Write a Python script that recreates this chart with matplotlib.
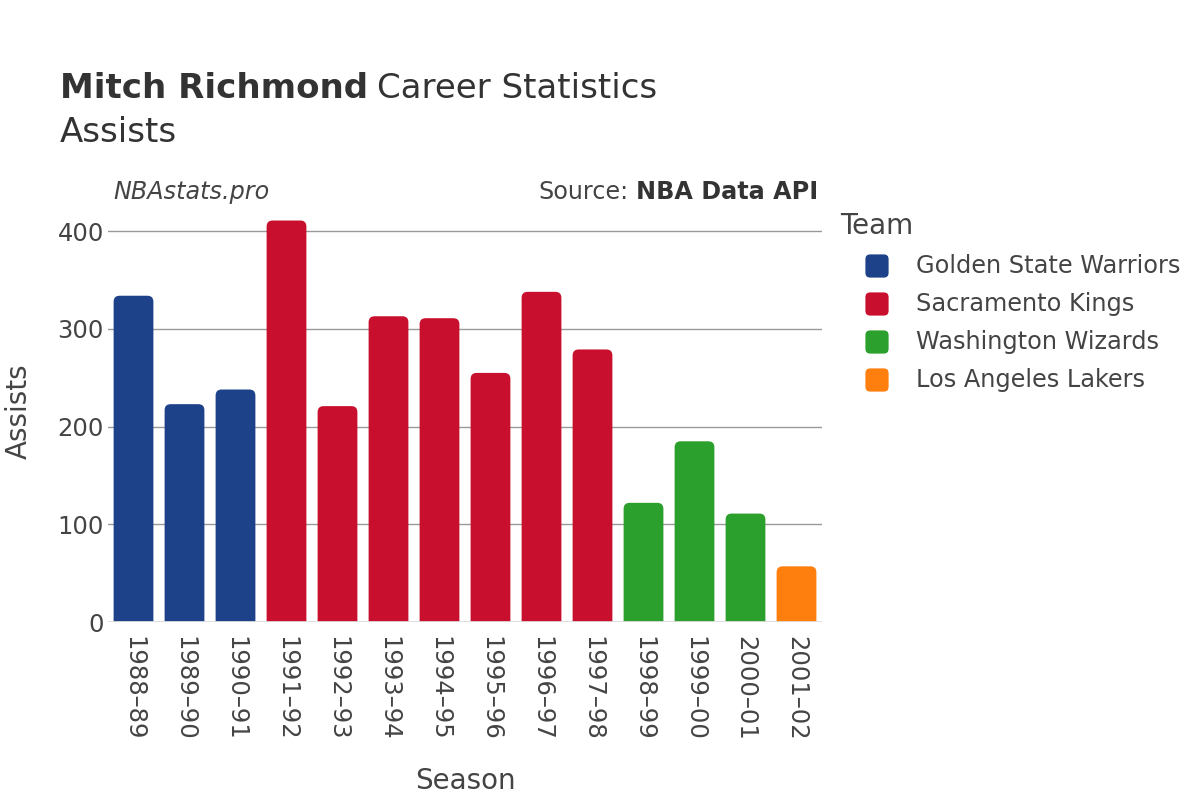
import matplotlib
matplotlib.use("Agg")
import matplotlib.pyplot as plt
from matplotlib.patches import FancyBboxPatch
import matplotlib.transforms as mtransforms

seasons = ["1988–89", "1989–90", "1990–91", "1991–92", "1992–93", "1993–94", "1994–95",
           "1995–96", "1996–97", "1997–98", "1998–99", "1999–00", "2000–01", "2001–02"]
assists = [334, 223, 238, 411, 221, 313, 311, 255, 338, 279, 122, 185, 111, 57]
teams = ["Golden State Warriors"] * 3 + ["Sacramento Kings"] * 7 + \
        ["Washington Wizards"] * 3 + ["Los Angeles Lakers"]
team_order = ["Golden State Warriors", "Sacramento Kings", "Washington Wizards", "Los Angeles Lakers"]
team_colors = {"Golden State Warriors": "#1D428A", "Sacramento Kings": "#C8102E",
               "Washington Wizards": "#2CA02C", "Los Angeles Lakers": "#FF7F0E"}

txt = "#444444"
plt.rcParams['font.family'] = ['DejaVu Sans']

fig = plt.figure(figsize=(12, 8), dpi=100)
ax = fig.add_axes([0.09, 0.2225, 0.595, 0.5275])
ymax = 432
ax.set_xlim(-0.5, len(seasons) - 0.5)
ax.set_ylim(0, ymax)

# pixel per data unit, for rounded corners
px_x = 714 / len(seasons)
px_y = 422 / ymax
aspect = px_x / px_y
for i, (v, t) in enumerate(zip(assists, teams)):
    w = 0.78
    r = 6 / px_x
    p = FancyBboxPatch((i - w / 2 + r, -20 + r * aspect), w - 2 * r, v + 20 - 2 * r * aspect,
                       boxstyle="round,pad=%f,rounding_size=%f" % (r, r),
                       mutation_aspect=aspect, facecolor=team_colors[t],
                       edgecolor="none", zorder=3, clip_on=True)
    ax.add_patch(p)

ax.set_yticks([0, 100, 200, 300, 400])
ax.yaxis.grid(True, color="#999999", linewidth=1, zorder=0)
ax.axhline(0, color="#dddddd", linewidth=2, zorder=4)
ax.set_xticks(range(len(seasons)))
ax.set_xticklabels(seasons, rotation=-90, fontsize=17.5, color=txt)
# nudge tick labels a little to the left
shift = mtransforms.ScaledTranslation(-5 / 100, 0, fig.dpi_scale_trans)
for lab in ax.get_xticklabels():
    lab.set_transform(lab.get_transform() + shift)
ax.tick_params(axis="y", labelsize=17.5, labelcolor=txt, length=0, pad=3)
ax.tick_params(axis="x", length=0, pad=10)
for s in ax.spines.values():
    s.set_visible(False)

ax.set_ylabel("Assists", fontsize=20, color=txt, labelpad=18)
ax.set_xlabel("Season", fontsize=20, color=txt, labelpad=19)

# title
r = fig.canvas.get_renderer()
t1 = fig.text(60 / 1200, 1 - 88 / 800, "Mitch Richmond", fontsize=24.5, fontweight="bold",
              color="#333333", va="center")
bb = t1.get_window_extent(renderer=r)
fig.text((bb.x1 + 9) / 1200, 1 - 88 / 800, "Career Statistics", fontsize=24.5,
         color="#333333", va="center")
fig.text(60 / 1200, 1 - 132 / 800, "Assists", fontsize=24.5, color="#333333", va="center")

fig.text(113 / 1200, 1 - 192 / 800, "NBAstats.pro", fontsize=17.2, style="italic",
         color=txt, va="center")
s2 = fig.text(818 / 1200, 1 - 192 / 800, "NBA Data API", fontsize=17.2, fontweight="bold",
              color="#333333", va="center", ha="right")
bb2 = s2.get_window_extent(renderer=r)
fig.text((bb2.x0 - 7) / 1200, 1 - 192 / 800, "Source:", fontsize=17.2,
         color=txt, va="center", ha="right")

# legend
fig.text(840 / 1200, 1 - 226 / 800, "Team", fontsize=20, color=txt, va="center")
for k, name in enumerate(team_order):
    yc = 266 + 38 * k
    box = FancyBboxPatch(((866 + 3) / 1200, 1 - (yc + 8) / 800), 16 / 1200, 16 / 800,
                         boxstyle="round,pad=0.003,rounding_size=0.004",
                         mutation_aspect=1.5, transform=fig.transFigure,
                         facecolor=team_colors[name], edgecolor="none")
    fig.patches.append(box)
    fig.text(916 / 1200, 1 - yc / 800, name, fontsize=17.3, color=txt, va="center")

fig.savefig("out.png", dpi=100)
